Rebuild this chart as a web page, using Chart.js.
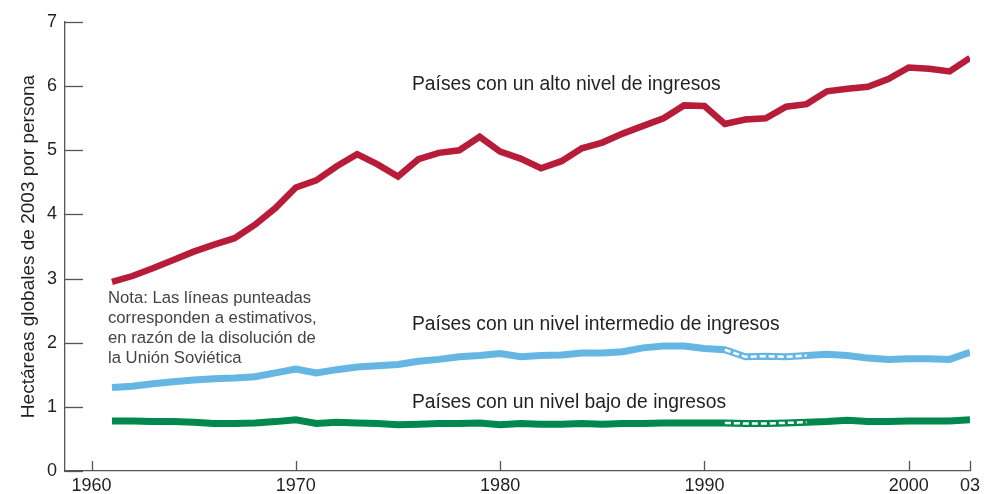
<!DOCTYPE html>
<html>
<head>
<meta charset="utf-8">
<script src="https://cdn.jsdelivr.net/npm/chart.js@4.4.0/dist/chart.umd.min.js"></script>
<style>
  body { margin: 0; background: #fff; }
</style>
</head>
<body>
<canvas id="myChart" width="986" height="494"></canvas>
<script>
// data
const years = [1961, 1962, 1963, 1964, 1965, 1966, 1967, 1968, 1969, 1970,
  1971, 1972, 1973, 1974, 1975, 1976, 1977, 1978, 1979, 1980,
  1981, 1982, 1983, 1984, 1985, 1986, 1987, 1988, 1989, 1990,
  1991, 1992, 1993, 1994, 1995, 1996, 1997, 1998, 1999, 2000,
  2001, 2002, 2003];
const highIncome = [2.95, 3.04, 3.16, 3.29, 3.42, 3.53, 3.63, 3.84, 4.10, 4.42,
  4.53, 4.75, 4.94, 4.78, 4.59, 4.86, 4.96, 5.00, 5.21, 4.98,
  4.87, 4.72, 4.83, 5.03, 5.12, 5.26, 5.38, 5.50, 5.70, 5.69,
  5.41, 5.48, 5.50, 5.68, 5.72, 5.92, 5.96, 5.99, 6.11, 6.29,
  6.27, 6.23, 6.44];
const middleIncome = [1.30, 1.32, 1.36, 1.39, 1.42, 1.44, 1.45, 1.47, 1.53, 1.59,
  1.53, 1.58, 1.62, 1.64, 1.66, 1.71, 1.74, 1.78, 1.80, 1.83,
  1.78, 1.80, 1.81, 1.84, 1.84, 1.86, 1.92, 1.95, 1.95, 1.91,
  1.89, 1.78, 1.79, 1.78, 1.80, 1.82, 1.80, 1.76, 1.74, 1.75,
  1.75, 1.74, 1.85];
const lowIncome = [0.78, 0.78, 0.77, 0.77, 0.76, 0.74, 0.74, 0.75, 0.77, 0.80,
  0.74, 0.76, 0.75, 0.74, 0.72, 0.73, 0.74, 0.74, 0.75, 0.72,
  0.74, 0.73, 0.73, 0.74, 0.73, 0.74, 0.74, 0.75, 0.75, 0.75,
  0.75, 0.74, 0.74, 0.75, 0.76, 0.77, 0.79, 0.77, 0.77, 0.78,
  0.78, 0.78, 0.80];
const estimateStart = 1991;
const estimateEnd = 1995;
const xTickValues = [1960, 1970, 1980, 1990, 2000, 2003];
const xTickLabels = ['1960', '1970', '1980', '1990', '2000', '03'];
const yTickValues = [0, 1, 2, 3, 4, 5, 6, 7];

const FONT = '"Liberation Sans", Arial, Helvetica, sans-serif';
const RED = '#b71c38';
const BLUE = '#66b6e3';
const GREEN = '#00884f';

function points(values) {
  return years.map((yr, i) => ({ x: yr, y: values[i] }));
}
function estimatePoints(values) {
  return points(values).filter(p => p.x >= estimateStart && p.x <= estimateEnd);
}

// ticks drawn inside the plot, like the printed figure
const insideTicks = {
  id: 'insideTicks',
  beforeDatasetsDraw(chart) {
    const { ctx, chartArea, scales: { x, y } } = chart;
    ctx.save();
    ctx.strokeStyle = '#555';
    ctx.lineWidth = 1.3;
    xTickValues.forEach(v => {
      const px = Math.round(x.getPixelForValue(v)) + 0.5;
      ctx.beginPath();
      ctx.moveTo(px, chartArea.bottom);
      ctx.lineTo(px, chartArea.bottom - 10);
      ctx.stroke();
    });
    yTickValues.forEach(v => {
      const py = Math.round(y.getPixelForValue(v)) + 0.5;
      ctx.beginPath();
      ctx.moveTo(chartArea.left, py);
      ctx.lineTo(chartArea.left + 18, py);
      ctx.stroke();
    });
    ctx.restore();
  }
};

// series names and the note
const annotations = {
  id: 'annotations',
  afterDraw(chart) {
    const ctx = chart.ctx;
    ctx.save();
    ctx.textBaseline = 'middle';
    ctx.textAlign = 'left';
    ctx.fillStyle = '#231f20';
    ctx.font = '19.3px ' + FONT;
    ctx.fillText('Países con un alto nivel de ingresos', 412, 85);
    ctx.fillText('Países con un nivel intermedio de ingresos', 412, 325);
    ctx.fillText('Países con un nivel bajo de ingresos', 412, 403);
    ctx.fillStyle = '#444';
    ctx.font = '16.7px ' + FONT;
    const note = ['Nota: Las líneas punteadas', 'corresponden a estimativos,',
      'en razón de la disolución de', 'la Unión Soviética'];
    note.forEach((t, i) => ctx.fillText(t, 108, 298 + i * 20));
    ctx.restore();
  }
};

const ctx = document.getElementById('myChart');
new Chart(ctx, {
  type: 'line',
  data: {
    datasets: [
      { label: 'alto', data: points(highIncome), borderColor: RED, borderWidth: 6.5, order: 1 },
      { label: 'intermedio', data: points(middleIncome), borderColor: BLUE, borderWidth: 7, order: 1 },
      { label: 'bajo', data: points(lowIncome), borderColor: GREEN, borderWidth: 7, order: 1 },
      { label: 'est-intermedio', data: estimatePoints(middleIncome), borderColor: '#fff', borderWidth: 2.5, borderDash: [6, 3], order: 0 },
      { label: 'est-bajo', data: estimatePoints(lowIncome), borderColor: '#fff', borderWidth: 2.5, borderDash: [6, 3], order: 0 }
    ]
  },
  options: {
    responsive: false,
    animation: false,
    layout: { padding: { top: 22, right: 16, left: 0, bottom: 0 } },
    elements: {
      point: { radius: 0 },
      line: { tension: 0, fill: false, borderJoinStyle: 'miter' }
    },
    plugins: {
      legend: { display: false },
      tooltip: { enabled: false }
    },
    scales: {
      x: {
        type: 'linear',
        min: 1958.7,
        max: 2003,
        afterBuildTicks: s => { s.ticks = xTickValues.map(v => ({ value: v })); },
        afterFit: s => { s.height = 23; },
        ticks: {
          autoSkip: false,
          maxRotation: 0,
          padding: 4,
          color: '#231f20',
          font: { family: FONT, size: 18 },
          callback: v => xTickLabels[xTickValues.indexOf(v)]
        },
        grid: { drawOnChartArea: false, drawTicks: false },
        border: { display: true, color: '#555', width: 1.3 }
      },
      y: {
        min: 0,
        max: 7,
        afterBuildTicks: s => { s.ticks = yTickValues.map(v => ({ value: v })); },
        afterFit: s => { s.width = 65; },
        ticks: {
          padding: 8,
          color: '#231f20',
          font: { family: FONT, size: 18 }
        },
        grid: { drawOnChartArea: false, drawTicks: false },
        border: { display: true, color: '#555', width: 1.3 },
        title: {
          display: true,
          text: 'Hectáreas globales de 2003 por persona',
          color: '#231f20',
          font: { family: FONT, size: 19 },
          padding: { top: 17, bottom: 0 }
        }
      }
    }
  },
  plugins: [insideTicks, annotations]
});
</script>
</body>
</html>
